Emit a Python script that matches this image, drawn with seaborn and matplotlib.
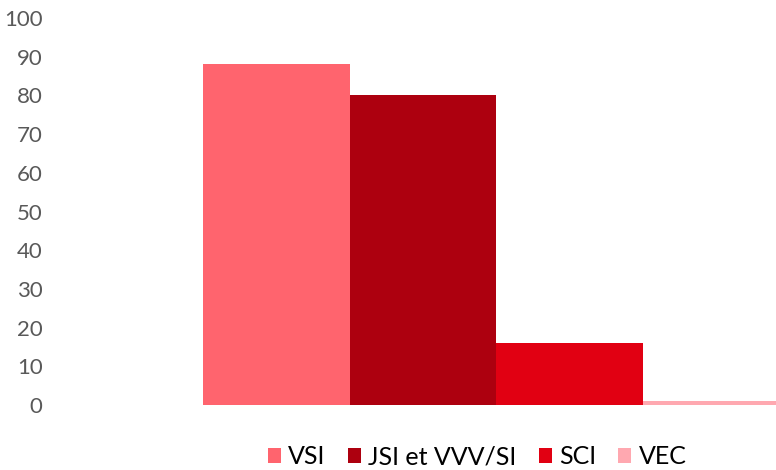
import pandas as pd
import matplotlib.pyplot as plt
import seaborn as sns

series = ['VSI', 'JSI et VVV/SI', 'SCI', 'VEC']
valeurs = [88, 80, 16, 1]
couleurs = ['#FF646E', '#AD000F', '#E10012', '#FFA8B0']
yticks = [0, 10, 20, 30, 40, 50, 60, 70, 80, 90, 100]

df = pd.DataFrame({'groupe': ['A'] * len(series), 'serie': series, 'valeur': valeurs})

sns.set_style('white')
plt.rcParams['font.family'] = ['Lato', 'DejaVu Sans']

fig = plt.figure(figsize=(7.76, 4.70), dpi=100)
ax = fig.add_axes([55 / 776, 65 / 470, 721 / 776, 387 / 470])

sns.barplot(data=df, x='groupe', y='valeur', hue='serie', hue_order=series,
            palette=couleurs, width=0.8, saturation=1, linewidth=0, ax=ax)

# le graphique d'origine est coupé à droite
ax.set_xlim(-0.6017, 0.381)
ax.set_ylim(0, 100)
ax.set_yticks(yticks)
ax.set_xticks([])
ax.set_xlabel('')
ax.set_ylabel('')
ax.tick_params(axis='y', length=0, pad=9, labelsize=16, labelcolor='#595959')
for s in ax.spines.values():
    s.set_visible(False)

handles, labels = ax.get_legend_handles_labels()
ax.get_legend().remove()
fig.legend(handles, labels, loc='center', bbox_to_anchor=(0.615, 0.028), ncol=4,
           frameon=False, fontsize=18, handlelength=0.52, handleheight=0.52,
           handletextpad=0.28, columnspacing=0.9, labelcolor='#000000')

fig.savefig('out.png', dpi=100)
